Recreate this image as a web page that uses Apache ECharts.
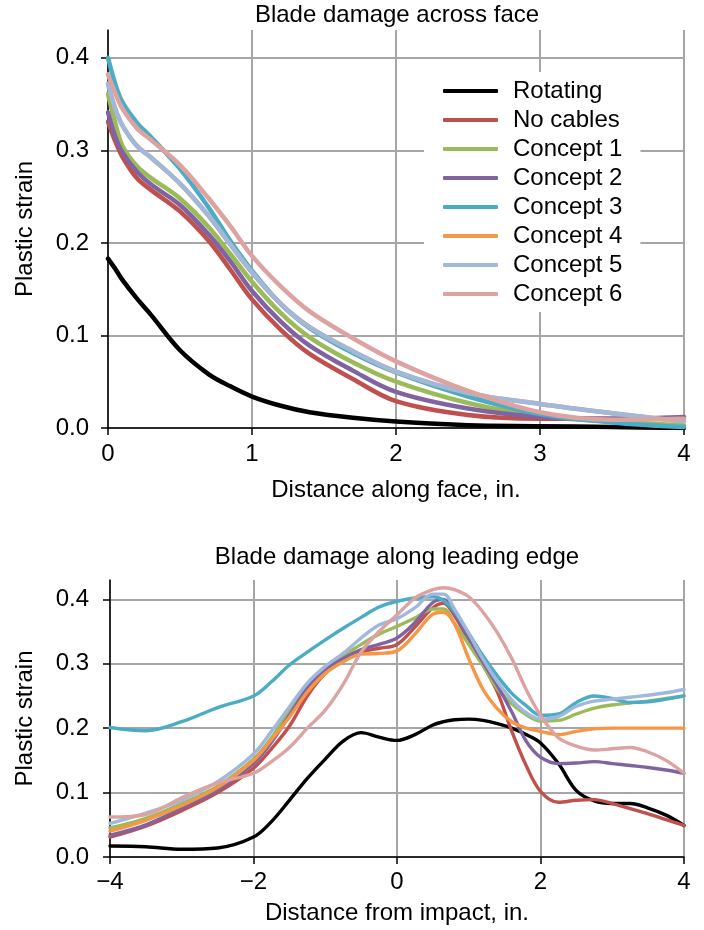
<!DOCTYPE html>
<html>
<head>
<meta charset="utf-8">
<script src="https://cdn.jsdelivr.net/npm/echarts@6/dist/echarts.min.js"></script>
<style>
html,body{margin:0;padding:0;background:#fff;}
#c{width:704px;height:930px;}
</style>
</head>
<body>
<div id="c"></div>
<script>
const seriesNames = ['Rotating','No cables','Concept 1','Concept 2','Concept 3','Concept 4','Concept 5','Concept 6'];
const seriesColors = ['#000000','#c0504d','#9bbb59','#8064a2','#4bacc6','#f79646','#a0b8dc','#dca3a1'];

// Top chart: distance along face
const faceX = [0, 0.05, 0.1, 0.2, 0.3, 0.5, 0.7, 0.85, 1.0, 1.2, 1.4, 1.7, 2.0, 2.5, 3.0, 3.5, 4.0];
const faceRotating = [0.183, 0.172, 0.160, 0.140, 0.122, 0.084, 0.058, 0.045, 0.034, 0.024, 0.017, 0.011, 0.007, 0.003, 0.002, 0.001, 0.000];
const faceNoCables = [0.331, 0.310, 0.293, 0.270, 0.257, 0.234, 0.202, 0.171, 0.139, 0.106, 0.080, 0.053, 0.029, 0.014, 0.010, 0.010, 0.011];
const faceConcept1 = [0.361, 0.330, 0.305, 0.283, 0.270, 0.248, 0.217, 0.188, 0.158, 0.124, 0.098, 0.071, 0.050, 0.027, 0.013, 0.007, 0.003];
const faceConcept2 = [0.341, 0.315, 0.298, 0.277, 0.263, 0.241, 0.209, 0.180, 0.148, 0.115, 0.089, 0.062, 0.039, 0.021, 0.012, 0.010, 0.012];
const faceConcept3 = [0.400, 0.372, 0.352, 0.330, 0.314, 0.280, 0.238, 0.202, 0.170, 0.134, 0.108, 0.081, 0.060, 0.034, 0.015, 0.006, 0.001];
const faceConcept4 = [0.372, 0.345, 0.327, 0.305, 0.292, 0.264, 0.229, 0.198, 0.168, 0.134, 0.109, 0.083, 0.061, 0.038, 0.026, 0.016, 0.007];
const faceConcept5 = [0.372, 0.345, 0.327, 0.305, 0.292, 0.264, 0.229, 0.198, 0.168, 0.134, 0.109, 0.083, 0.061, 0.038, 0.026, 0.016, 0.007];
const faceConcept6 = [0.382, 0.362, 0.345, 0.324, 0.311, 0.284, 0.248, 0.218, 0.186, 0.153, 0.126, 0.097, 0.072, 0.040, 0.017, 0.009, 0.010];

// Bottom chart: distance from impact
const edgeX = [-4, -3.5, -3, -2.5, -2, -1.75, -1.5, -1.25, -1, -0.75, -0.5, -0.25, 0, 0.25, 0.5, 0.65, 0.8, 1.0, 1.2, 1.4, 1.6, 1.8, 2.0, 2.25, 2.5, 2.75, 3.0, 3.25, 3.5, 3.75, 4.0];
const edgeRotating = [0.017, 0.016, 0.012, 0.014, 0.031, 0.055, 0.088, 0.122, 0.152, 0.180, 0.193, 0.186, 0.181, 0.190, 0.205, 0.210, 0.213, 0.214, 0.212, 0.207, 0.200, 0.190, 0.177, 0.145, 0.103, 0.087, 0.083, 0.083, 0.076, 0.065, 0.049];
const edgeNoCables = [0.031, 0.048, 0.072, 0.100, 0.138, 0.168, 0.203, 0.250, 0.285, 0.305, 0.318, 0.324, 0.330, 0.357, 0.387, 0.394, 0.375, 0.336, 0.298, 0.256, 0.195, 0.142, 0.102, 0.085, 0.088, 0.089, 0.083, 0.075, 0.067, 0.058, 0.049];
const edgeConcept1 = [0.045, 0.060, 0.083, 0.110, 0.152, 0.185, 0.228, 0.268, 0.293, 0.312, 0.330, 0.346, 0.358, 0.371, 0.385, 0.385, 0.363, 0.330, 0.297, 0.261, 0.238, 0.221, 0.211, 0.212, 0.222, 0.231, 0.236, 0.239, 0.242, 0.246, 0.250];
const edgeConcept2 = [0.034, 0.050, 0.076, 0.104, 0.145, 0.178, 0.220, 0.262, 0.290, 0.308, 0.322, 0.330, 0.340, 0.364, 0.395, 0.400, 0.379, 0.340, 0.302, 0.266, 0.225, 0.180, 0.155, 0.145, 0.146, 0.148, 0.145, 0.142, 0.139, 0.135, 0.130];
const edgeConcept3 = [0.201, 0.196, 0.210, 0.232, 0.250, 0.272, 0.298, 0.318, 0.337, 0.355, 0.372, 0.388, 0.397, 0.402, 0.404, 0.398, 0.381, 0.347, 0.312, 0.281, 0.254, 0.235, 0.220, 0.222, 0.240, 0.250, 0.246, 0.240, 0.241, 0.245, 0.250];
const edgeConcept4 = [0.040, 0.057, 0.080, 0.108, 0.150, 0.182, 0.217, 0.256, 0.285, 0.303, 0.315, 0.316, 0.320, 0.346, 0.377, 0.380, 0.362, 0.308, 0.260, 0.230, 0.210, 0.200, 0.195, 0.190, 0.195, 0.199, 0.200, 0.200, 0.200, 0.200, 0.200];
const edgeConcept5 = [0.052, 0.068, 0.088, 0.117, 0.160, 0.195, 0.233, 0.270, 0.296, 0.316, 0.340, 0.360, 0.370, 0.387, 0.408, 0.408, 0.385, 0.347, 0.307, 0.272, 0.244, 0.224, 0.214, 0.218, 0.234, 0.242, 0.245, 0.248, 0.251, 0.255, 0.260];
const edgeConcept6 = [0.062, 0.066, 0.092, 0.115, 0.130, 0.148, 0.170, 0.200, 0.228, 0.268, 0.318, 0.350, 0.376, 0.402, 0.415, 0.418, 0.415, 0.404, 0.380, 0.348, 0.308, 0.260, 0.220, 0.185, 0.172, 0.166, 0.168, 0.170, 0.163, 0.150, 0.130];

const yTicks = [0, 0.1, 0.2, 0.3, 0.4];
const faceXTicks = [0, 1, 2, 3, 4];
const edgeXTicks = [-4, -2, 0, 2, 4];

const faceSeries = [faceRotating, faceNoCables, faceConcept1, faceConcept2, faceConcept3, faceConcept4, faceConcept5, faceConcept6];
const edgeSeries = [edgeRotating, edgeNoCables, edgeConcept1, edgeConcept2, edgeConcept3, edgeConcept4, edgeConcept5, edgeConcept6];

const FONT = 'Liberation Sans, Arial, Helvetica, sans-serif';
const FS = 24;
const GRIDC = '#a6a6a6';

function pairs(xs, ys) { return xs.map((x, i) => [x, ys[i]]); }

function xAxisDef(gridIndex, min, max, interval, ticks, name, nameGap, margin) {
  return {
    type: 'value', gridIndex, min, max, interval, name, nameLocation: 'middle', nameGap,
    nameTextStyle: { fontFamily: FONT, fontSize: FS, color: '#000' },
    axisLine: { show: true, onZero: false, lineStyle: { color: '#000', width: 1.5 } },
    axisTick: { show: true, inside: false, length: 7, lineStyle: { color: '#000', width: 1.5 }, customValues: ticks },
    axisLabel: { margin, fontFamily: FONT, fontSize: FS, color: '#000', customValues: ticks,
      formatter: v => String(v).replace('-', '\u2212') },
    splitLine: { show: true, lineStyle: { color: GRIDC, width: 2 } }
  };
}
function yAxisDef(gridIndex, margin, nameGap) {
  return {
    type: 'value', gridIndex, min: 0, max: 0.43, name: 'Plastic strain', nameLocation: 'middle', nameGap,
    nameTextStyle: { fontFamily: FONT, fontSize: FS, color: '#000' },
    axisLine: { show: true, onZero: false, lineStyle: { color: '#000', width: 1.5 } },
    axisTick: { show: true, inside: false, length: 7, lineStyle: { color: '#000', width: 1.5 }, customValues: yTicks },
    axisLabel: { margin, fontFamily: FONT, fontSize: FS, color: '#000', customValues: yTicks,
      formatter: v => v.toFixed(1) },
    splitLine: { show: true, lineStyle: { color: GRIDC, width: 2 } }
  };
}

const series = [];
seriesNames.forEach((n, i) => {
  series.push({
    name: n, type: 'line', xAxisIndex: 0, yAxisIndex: 0, data: pairs(faceX, faceSeries[i]),
    smooth: 0.35, showSymbol: false, symbol: 'none', color: seriesColors[i],
    lineStyle: { width: 4.5, color: seriesColors[i], cap: 'round', join: 'round' }, z: 2 + i * 0.01
  });
});
seriesNames.forEach((n, i) => {
  series.push({
    name: n, type: 'line', xAxisIndex: 1, yAxisIndex: 1, data: pairs(edgeX, edgeSeries[i]),
    smooth: 0.35, showSymbol: false, symbol: 'none', color: seriesColors[i],
    lineStyle: { width: 3.4, color: seriesColors[i], cap: 'round', join: 'round' }, z: 2 + i * 0.01
  });
});

const chart = echarts.init(document.getElementById('c'), null, { renderer: 'canvas' });
chart.setOption({
  backgroundColor: '#fff',
  animation: false,
  textStyle: { fontFamily: FONT },
  graphic: [
    { type: 'text', x: 397, y: 15, style: { text: 'Blade damage across face', fontFamily: FONT, fontSize: FS, fill: '#000', textAlign: 'center', textVerticalAlign: 'middle' } },
    { type: 'text', x: 397, y: 557, style: { text: 'Blade damage along leading edge', fontFamily: FONT, fontSize: FS, fill: '#000', textAlign: 'center', textVerticalAlign: 'middle' } }
  ],
  grid: [
    { left: 108, top: 30, width: 576, height: 398, containLabel: false },
    { left: 110, top: 580, width: 574, height: 277, containLabel: false }
  ],
  xAxis: [
    xAxisDef(0, 0, 4, 1, faceXTicks, 'Distance along face, in.', 50, 14),
    xAxisDef(1, -4, 4, 2, edgeXTicks, 'Distance from impact, in.', 44, 13)
  ],
  yAxis: [yAxisDef(0, 19, 71), yAxisDef(1, 21, 73)],
  legend: {
    data: seriesNames,
    left: 424, top: 72, orient: 'vertical',
    backgroundColor: '#fff', padding: [7, 18, 6, 19],
    itemWidth: 55, itemHeight: 4, itemGap: 5, icon: 'roundRect',
    textStyle: { fontFamily: FONT, fontSize: FS, color: '#000', padding: [0, 0, 0, 10], lineHeight: 24 }
  },
  series
});
</script>
</body>
</html>
